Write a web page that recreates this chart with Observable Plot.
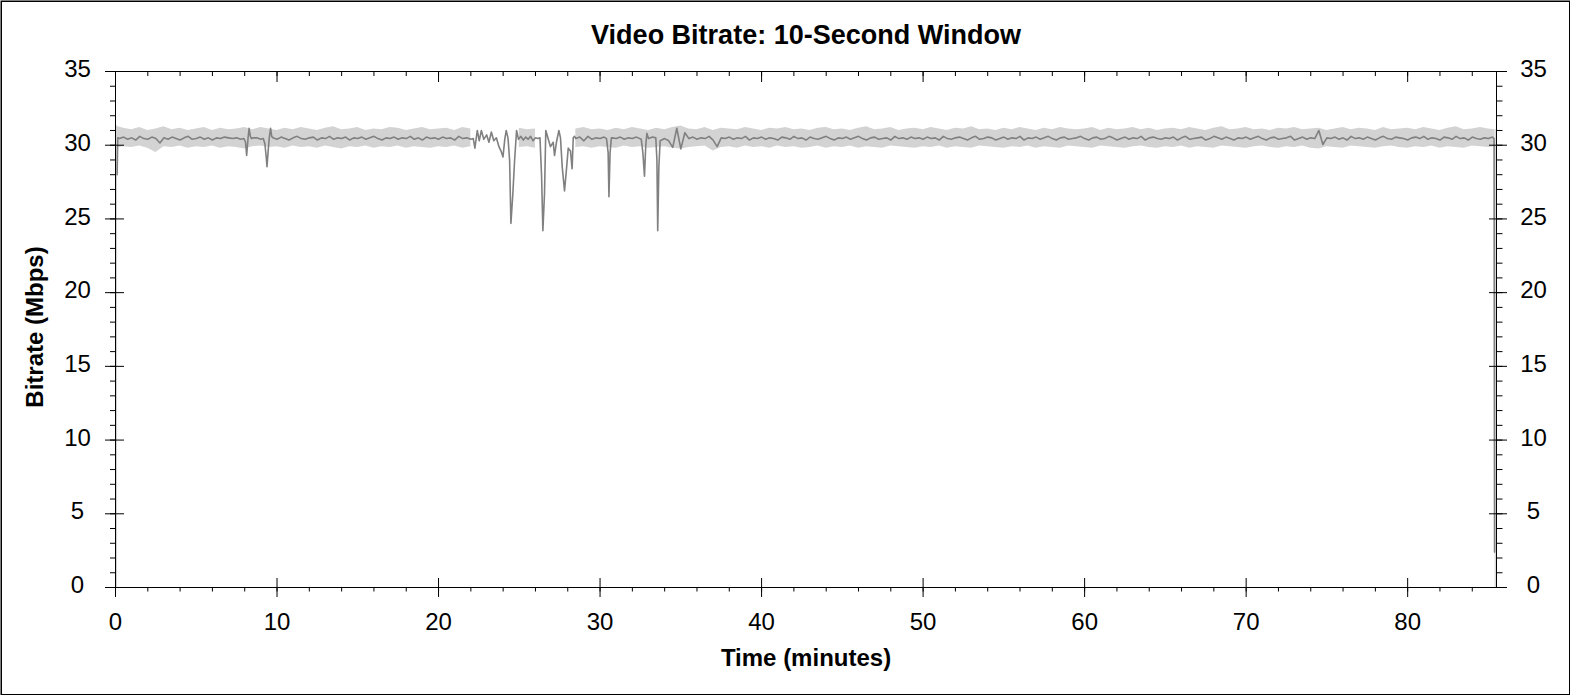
<!DOCTYPE html>
<html><head><meta charset="utf-8">
<script src="https://cdn.jsdelivr.net/npm/d3@7"></script>
<script src="https://cdn.jsdelivr.net/npm/@observablehq/plot@0.6"></script>
<style>html,body{margin:0;padding:0;background:#fff}</style>
</head><body><div id="chart"></div>
<script>
const titleText = "Video Bitrate: 10-Second Window";
const xLabel = "Time (minutes)";
const yLabel = "Bitrate (Mbps)";
const xMajor = [0, 10, 20, 30, 40, 50, 60, 70, 80];
const xMinor = [0, 2, 4, 6, 8, 10, 12, 14, 16, 18, 20, 22, 24, 26, 28, 30, 32, 34, 36, 38, 40, 42, 44, 46, 48, 50, 52, 54, 56, 58, 60, 62, 64, 66, 68, 70, 72, 74, 76, 78, 80, 82, 84];
const yMajor = [0, 5, 10, 15, 20, 25, 30, 35];
const yMinor = [0, 1, 2, 3, 4, 5, 6, 7, 8, 9, 10, 11, 12, 13, 14, 15, 16, 17, 18, 19, 20, 21, 22, 23, 24, 25, 26, 27, 28, 29, 30, 31, 32, 33, 34, 35];

// light gray envelope of the short-window bitrate, sampled every 0.5 min (last sample at 85.4)
const bandStep = 0.5;
const bandEnd = 85.4;
const bandHigh = [
  31.3, 31.15, 31.05, 31.2, 31.0, 31.1, 31.25, 31.05, 31.15, 31.0,
  31.1, 31.2, 31.0, 31.15, 31.05, 31.1, 31.2, 31.05, 31.2, 31.1,
  31.0, 31.15, 31.05, 31.2, 31.1, 31.0, 31.15, 31.25, 31.05, 31.1,
  31.2, 31.0, 31.1, 31.05, 31.2, 31.15, 31.0, 31.1, 31.2, 31.05,
  31.1, 31.15, 31.0, 31.2, 31.1, null, null, null, null, null,
  31.15, 31.05, 31.1, null, null, null, null, 31.1, 31.2, 31.05,
  31.1, 31.0, 31.15, 31.05, 31.2, 31.1, 31.0, 31.15, 31.05, 31.2,
  31.3, 31.1, 31.05, 31.2, 31.0, 31.15, 31.1, 31.05, 31.2, 31.1,
  31.0, 31.15, 31.1, 31.2, 31.05, 31.1, 31.0, 31.15, 31.2, 31.05,
  31.1, 31.0, 31.15, 31.25, 31.05, 31.1, 31.2, 31.0, 31.1, 31.15,
  31.05, 31.2, 31.1, 31.0, 31.15, 31.1, 31.25, 31.05, 31.1, 31.0,
  31.15, 31.05, 31.2, 31.1, 31.0, 31.15, 31.05, 31.2, 31.1, 31.05,
  31.1, 31.2, 31.0, 31.15, 31.05, 31.1, 31.2, 31.05, 31.15, 31.0,
  31.1, 31.15, 31.05, 31.2, 31.1, 31.0, 31.15, 31.25, 31.05, 31.1,
  31.2, 31.05, 31.1, 31.0, 31.15, 31.1, 31.2, 31.05, 31.1, 31.15,
  31.0, 31.1, 31.2, 31.05, 31.15, 31.1, 31.0, 31.2, 31.05, 31.1,
  31.15, 31.05, 31.2, 31.1, 31.0, 31.15, 31.25, 31.05, 31.1, 31.2,
  31.1, 31.05
];
const bandLow = [
  29.8, 29.9, 29.85, 29.95, 29.8, 29.5, 29.9, 29.85, 29.95, 29.8,
  29.9, 29.85, 29.95, 29.8, 29.9, 29.85, 29.75, 29.9, 29.95, 29.85,
  29.9, 29.8, 29.95, 29.85, 29.9, 29.8, 29.95, 29.85, 29.75, 29.9,
  29.85, 29.95, 29.8, 29.9, 29.85, 29.95, 29.8, 29.9, 29.85, 29.8,
  29.9, 29.85, 29.95, 29.8, 29.9, null, null, null, null, null,
  29.85, 29.9, 29.8, null, null, null, null, 29.85, 29.9, 29.8,
  29.9, 29.85, 29.8, 29.95, 29.85, 29.9, 29.8, 29.85, 29.9, 29.8,
  29.75, 29.85, 29.9, 29.95, 29.6, 29.85, 29.9, 29.8, 29.95, 29.85,
  29.9, 29.8, 29.95, 29.85, 29.9, 29.8, 29.85, 29.95, 29.8, 29.9,
  29.85, 29.95, 29.8, 29.9, 29.85, 29.8, 29.95, 29.9, 29.85, 29.8,
  29.9, 29.85, 29.95, 29.8, 29.9, 29.85, 29.8, 29.95, 29.9, 29.85,
  29.8, 29.9, 29.85, 29.95, 29.8, 29.9, 29.85, 29.8, 29.95, 29.9,
  29.85, 29.8, 29.95, 29.9, 29.85, 29.8, 29.9, 29.95, 29.85, 29.8,
  29.9, 29.85, 29.95, 29.8, 29.9, 29.85, 29.8, 29.95, 29.9, 29.85,
  29.8, 29.9, 29.95, 29.85, 29.8, 29.9, 29.85, 29.95, 29.8, 29.75,
  29.9, 29.85, 29.8, 29.95, 29.9, 29.85, 29.8, 29.9, 29.95, 29.85,
  29.8, 29.9, 29.85, 29.95, 29.8, 29.9, 29.85, 29.8, 29.95, 29.9,
  29.85, 29.9
];
// start and end edges of the light series (drops to 0)
const edgeMinutes = [0.06, 85.42];
const edgeTop = [31.3, 31.05];

// 10-second average, every 0.25 min
const avgStep = 0.25;
const avgBase = [
  30.5, 30.45, 30.55, 30.4, 30.5, 30.35, 30.6, 30.45, 30.4, 30.55, 30.45, 30.15, 30.5, 30.4, 30.55, 30.45, 30.35, 30.5, 30.6, 30.4,
  30.45, 30.55, 30.4, 30.5, 30.35, 30.5, 30.45, 30.55, 30.5, 30.45, 30.5, 30.4, 30.55, 30.45, 30.5, 30.5, 30.4, 30.55, 30.45, 30.5,
  30.4, 30.55, 30.45, 30.35, 30.5, 30.6, 30.45, 30.4, 30.5, 30.55, 30.35, 30.5, 30.45, 30.6, 30.4, 30.5, 30.45, 30.55, 30.35, 30.5,
  30.45, 30.55, 30.4, 30.5, 30.6, 30.45, 30.35, 30.5, 30.45, 30.55, 30.4, 30.5, 30.45, 30.6, 30.4, 30.5, 30.35, 30.55, 30.45, 30.5,
  30.4, 30.55, 30.45, 30.5, 30.35, 30.6, 30.45, 30.5, 30.4, 30.5, 30.5, 30.5, 30.5, 30.5, 30.5, 30.5, 30.5, 30.5, 30.5, 30.5,
  30.5, 30.5, 30.5, 30.5, 30.5, 30.5, 30.5, 30.5, 30.5, 30.5, 30.5, 30.5, 30.5, 30.5, 30.45, 30.55, 30.3, 30.6, 30.4, 30.5,
  30.45, 30.55, 30.4, 30.5, 30.45, 30.55, 30.4, 30.5, 30.45, 30.55, 30.5, 30.5, 30.45, 30.55, 30.5, 30.4, 30.45, 30.3, 29.85, 31.15,
  29.75, 30.85, 30.45, 30.55, 30.4, 30.5, 30.45, 30.6, 30.35, 29.9, 30.5, 30.45, 30.55, 30.4, 30.5, 30.45, 30.6, 30.35, 30.5, 30.45,
  30.55, 30.4, 30.5, 30.45, 30.35, 30.55, 30.5, 30.4, 30.6, 30.45, 30.5, 30.35, 30.55, 30.45, 30.4, 30.5, 30.6, 30.45, 30.35, 30.5,
  30.45, 30.55, 30.4, 30.5, 30.6, 30.45, 30.35, 30.5, 30.55, 30.4, 30.45, 30.5, 30.35, 30.6, 30.45, 30.5, 30.4, 30.55, 30.45, 30.5,
  30.4, 30.55, 30.45, 30.5, 30.35, 30.6, 30.45, 30.4, 30.5, 30.55, 30.45, 30.35, 30.5, 30.6, 30.4, 30.45, 30.55, 30.5, 30.35, 30.45,
  30.55, 30.4, 30.5, 30.45, 30.6, 30.35, 30.5, 30.45, 30.55, 30.4, 30.5, 30.6, 30.45, 30.35, 30.5, 30.55, 30.4, 30.45, 30.5, 30.6,
  30.45, 30.35, 30.5, 30.55, 30.4, 30.45, 30.6, 30.5, 30.35, 30.45, 30.55, 30.4, 30.5, 30.45, 30.6, 30.35, 30.5, 30.55, 30.45, 30.4,
  30.5, 30.45, 30.55, 30.35, 30.5, 30.6, 30.4, 30.45, 30.5, 30.55, 30.35, 30.45, 30.6, 30.5, 30.4, 30.55, 30.45, 30.35, 30.5, 30.45,
  30.55, 30.4, 30.5, 30.6, 30.45, 30.35, 30.5, 30.55, 30.4, 30.45, 30.5, 30.6, 30.35, 30.45, 30.55, 30.4, 30.5, 30.45, 31.0, 30.05,
  30.5, 30.45, 30.55, 30.4, 30.5, 30.35, 30.6, 30.45, 30.5, 30.4, 30.55, 30.45, 30.35, 30.5, 30.6, 30.45, 30.4, 30.55, 30.5, 30.45,
  30.35, 30.5, 30.55, 30.45, 30.6, 30.4, 30.5, 30.45, 30.35, 30.55, 30.5, 30.4, 30.6, 30.45, 30.5, 30.35, 30.55, 30.45, 30.4, 30.5,
  30.45, 30.55
];
// detailed readings inside the drops
const dipWindows = [[0, 0.2], [7.9, 8.45], [9.1, 9.7], [22.1, 28.45], [30.35, 30.74], [32.5, 32.95], [33.4, 33.8], [85.3, 85.5]];
const dipMinutes = [
  0.1, 0.14,
  7.95, 8.05, 8.12, 8.2, 8.27, 8.35, 8.42,
  9.15, 9.25, 9.33, 9.38, 9.45, 9.52, 9.6, 9.67,
  22.15, 22.25, 22.4, 22.52, 22.65, 22.8, 22.98, 23.12, 23.27, 23.42, 23.58, 23.74, 23.87, 23.99, 24.1, 24.19, 24.3, 24.4, 24.48, 24.6, 24.71, 24.83, 24.95,
  25.1, 25.25, 25.4, 25.55, 25.7, 25.85, 26.0, 26.15, 26.28, 26.38, 26.46, 26.56, 26.64, 26.77, 26.93, 27.1, 27.18, 27.3, 27.45, 27.55, 27.66, 27.8, 27.93, 28.03, 28.17, 28.27, 28.34, 28.42,
  30.4, 30.5, 30.55, 30.62, 30.7,
  32.55, 32.65, 32.75, 32.83, 32.9,
  33.45, 33.52, 33.57, 33.64, 33.72,
  85.35, 85.38
];
const dipMbps = [
  28.0, 30.5,
  30.45, 30.2, 29.3, 30.4, 31.15, 30.6, 30.45,
  30.45, 30.1, 29.2, 28.55, 29.6, 30.5, 31.15, 30.6,
  30.45, 29.8, 31.0, 30.3, 31.0, 30.4, 30.7, 30.2, 30.9, 30.3, 30.5, 29.9, 29.6, 29.2, 30.4, 31.0, 30.5, 29.0, 24.7, 26.7, 29.0, 31.0, 30.4,
  30.6, 30.35, 30.55, 30.4, 30.6, 30.3, 30.5, 30.45, 30.5, 27.9, 24.2, 26.7, 31.0, 30.5, 29.9, 30.2, 29.3, 30.2, 31.0, 30.5, 28.5, 26.9, 28.5, 29.8, 29.6, 28.4, 30.5, 30.6,
  30.45, 29.5, 26.5, 29.5, 30.5,
  30.4, 29.5, 27.9, 30.0, 30.8,
  30.5, 29.0, 24.2, 28.5, 30.3,
  30.45, 2.4
];

const band = bandHigh.map((hi, i) => ({t: Math.min(i * bandStep, bandEnd), hi, lo: bandLow[i]}));
const inDip = t => dipWindows.some(([a, b]) => t >= a && t <= b);
const avg = avgBase.map((v, i) => ({t: i * avgStep, v}))
  .filter(d => !inDip(d.t))
  .concat(dipMinutes.map((t, i) => ({t, v: dipMbps[i]})))
  .sort((a, b) => a.t - b.t);
const edges = edgeMinutes.map((t, i) => ({t, top: edgeTop[i]}));

const light = "#d3d3d3", dark = "#808080";
const font = "Arial, 'Liberation Sans', sans-serif";
const tickFont = 24;

const chart = Plot.plot({
  width: 1570,
  height: 695,
  marginLeft: 115,
  marginRight: 74,
  marginTop: 71,
  marginBottom: 108,
  style: {fontFamily: font, fontSize: "24px", background: "white", color: "black"},
  x: {domain: [0, 85.5]},
  y: {domain: [0, 35]},
  marks: [
    Plot.areaY(band, {x: "t", y1: "lo", y2: "hi", fill: light}),
    Plot.ruleX(edges, {x: "t", y1: 0, y2: "top", stroke: light, strokeWidth: 1.2}),
    Plot.line(avg, {x: "t", y: "v", stroke: dark, strokeWidth: 1.6}),
    Plot.frame({stroke: "black"}),
    // bottom axis ticks
    Plot.axisX(xMinor, {anchor: "bottom", tickSize: 4.5, fill: "none", label: null}),
    Plot.axisX(xMajor, {anchor: "bottom", tickSize: 10, fill: "none", label: null}),
    Plot.axisX(xMajor, {anchor: "bottom", tickSize: 9, dy: -9, fill: "none", label: null}),
    Plot.axisX(xMajor, {anchor: "bottom", tickSize: 0, tickPadding: 25, fontSize: tickFont, label: null}),
    // top axis ticks (inward)
    Plot.axisX(xMinor, {anchor: "top", tickSize: 4, dy: 4, fill: "none", label: null}),
    Plot.axisX(xMajor, {anchor: "top", tickSize: 10, dy: 10, fill: "none", label: null}),
    // left axis
    Plot.axisY(yMinor, {anchor: "left", tickSize: 5, fill: "none", label: null}),
    Plot.axisY(yMajor, {anchor: "left", tickSize: 10, fill: "none", label: null}),
    Plot.axisY(yMajor, {anchor: "left", tickSize: 9, dx: 9, fill: "none", label: null}),
    Plot.axisY(yMajor, {anchor: "left", tickSize: 0, tickPadding: 38, textAnchor: "middle", dy: -2, fontSize: tickFont, label: null}),
    // right axis
    Plot.axisY(yMinor, {anchor: "right", tickSize: 5.5, fill: "none", label: null}),
    Plot.axisY(yMajor, {anchor: "right", tickSize: 10, fill: "none", label: null}),
    Plot.axisY(yMajor, {anchor: "right", tickSize: 8, dx: -8, fill: "none", label: null}),
    Plot.axisY(yMajor, {anchor: "right", tickSize: 0, tickPadding: 37, textAnchor: "middle", dy: -2, fontSize: tickFont, label: null}),
    // titles
    Plot.text([titleText], {text: d => d, frameAnchor: "top", lineAnchor: "middle", textAnchor: "middle", dy: -36.3, fontSize: 27, fontWeight: "bold", fill: "black"}),
    Plot.text([xLabel], {text: d => d, frameAnchor: "bottom", lineAnchor: "middle", textAnchor: "middle", dy: 71.3, fontSize: 24, fontWeight: "bold", fill: "black"}),
    Plot.text([yLabel], {text: d => d, frameAnchor: "left", lineAnchor: "middle", textAnchor: "middle", dx: -80.4, dy: -2.5, rotate: -90, fontSize: 24, fontWeight: "bold", fill: "black"}),
    // outer border
    Plot.frame({stroke: "black", strokeWidth: 1.5, insetLeft: -114.25, insetRight: -73.25, insetTop: -70.25, insetBottom: -107.25})
  ]
});
document.getElementById("chart").appendChild(chart);
</script>
</body></html>
